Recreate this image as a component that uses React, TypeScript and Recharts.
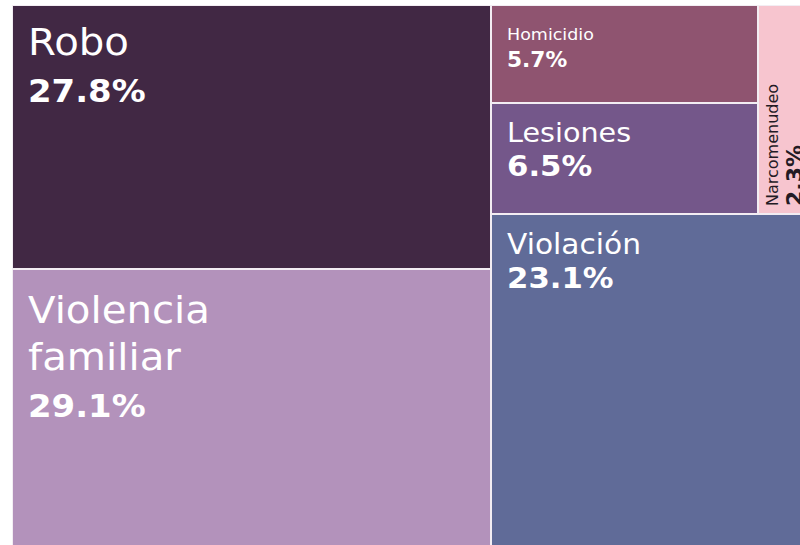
import React from "react";
import { Treemap } from "recharts";

// share of reported crimes, % (the picture is cropped on the right)
const categories = [
  "Robo",
  "Violencia familiar",
  "Homicidio",
  "Lesiones",
  "Narcomenudeo",
  "Violación",
];
const shares = [27.8, 29.1, 5.7, 6.5, 2.3, 23.1];
const colors = ["#412844", "#b392bb", "#8f5470", "#74578a", "#f7c5cf", "#606b98"];

const leaf = (i: number) => ({ name: categories[i], value: shares[i] });

// Nesting so that the squarify pass lands on the same blocks as the original.
const data = [
  leaf(0),
  leaf(1),
  {
    name: "resto",
    children: [
      { name: "arriba", children: [leaf(2), leaf(3), leaf(4)] },
      leaf(5),
    ],
  },
];

type LabelStyle = {
  nameSize: number;
  pctSize: number;
  top: number;
  gap: number;
  wrap?: boolean;
  dark?: boolean;
  vertical?: boolean;
};

const LABELS: Record<string, LabelStyle> = {
  Robo: { nameSize: 38, pctSize: 32, top: 50, gap: 47 },
  "Violencia familiar": { nameSize: 38, pctSize: 32, top: 54, gap: 47, wrap: true },
  Homicidio: { nameSize: 16.5, pctSize: 20.5, top: 35, gap: 27 },
  Lesiones: { nameSize: 27, pctSize: 29, top: 39, gap: 34 },
  Violación: { nameSize: 28, pctSize: 29, top: 40, gap: 34 },
  Narcomenudeo: { nameSize: 16, pctSize: 22, top: 20, gap: 24, dark: true, vertical: true },
};

const FONT = "'DejaVu Sans', sans-serif";
// the original type runs a little wide
const STRETCH = 1.06;

function Cell(props: any) {
  const { x, y, width, height, name } = props;
  const i = categories.indexOf(name);
  if (i < 0) return <g />;
  const st = LABELS[name];
  const fill = st.dark ? "#231a24" : "#ffffff";
  const pct = `${shares[i].toFixed(1)}%`;

  let label;
  if (st.vertical) {
    const bx = x + st.top;
    const by = y + height - 8;
    label = (
      <g fontFamily={FONT} fill={fill}>
        <text x={bx} y={by} fontSize={st.nameSize} transform={`rotate(-90 ${bx} ${by})`}>
          {name}
        </text>
        <text
          x={bx + st.gap}
          y={by}
          fontSize={st.pctSize}
          fontWeight={700}
          transform={`rotate(-90 ${bx + st.gap} ${by})`}
        >
          {pct}
        </text>
      </g>
    );
  } else {
    const lines = st.wrap ? name.split(" ") : [name];
    label = (
      <g
        fontFamily={FONT}
        fill={fill}
        transform={`translate(${x + 16} 0) scale(${STRETCH} 1)`}
      >
        {lines.map((ln: string, k: number) => (
          <text key={k} x={0} y={y + st.top + k * st.gap} fontSize={st.nameSize}>
            {ln}
          </text>
        ))}
        <text
          x={0}
          y={y + st.top + lines.length * st.gap}
          fontSize={st.pctSize}
          fontWeight={700}
        >
          {pct}
        </text>
      </g>
    );
  }

  return (
    <g>
      <rect
        x={x}
        y={y}
        width={width}
        height={height}
        fill={colors[i]}
        stroke="#f3edf3"
        strokeWidth={2}
      />
      {label}
    </g>
  );
}

export default function App() {
  return (
    <div style={{ position: "fixed", inset: 0, overflow: "hidden", background: "#fff" }}>
      <div style={{ position: "absolute", left: 12, top: 5 }}>
        <Treemap
          width={796}
          height={541}
          data={data}
          dataKey="value"
          nameKey="name"
          type="flat"
          content={<Cell />}
          isAnimationActive={false}
        />
      </div>
    </div>
  );
}
